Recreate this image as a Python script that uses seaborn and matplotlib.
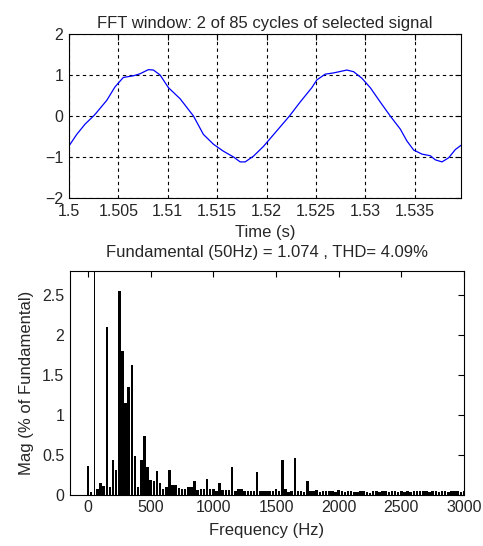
import numpy as np
import pandas as pd
from matplotlib import pyplot as plt
import seaborn as sns

# signal window
time_s = [1.5, 1.50078, 1.50162, 1.50257, 1.50382, 1.50466, 1.5055, 1.50652, 1.5072,
          1.50804, 1.50855, 1.50922, 1.51007, 1.51125, 1.5126, 1.51361, 1.51463, 1.51564,
          1.51666, 1.51733, 1.51784, 1.51868, 1.5197, 1.52105, 1.52233, 1.52341, 1.52459,
          1.5251, 1.52595, 1.52679, 1.52814, 1.52882, 1.52966, 1.53051, 1.53152, 1.53253,
          1.53355, 1.53422, 1.5349, 1.53574, 1.53659, 1.5371, 1.53777, 1.53845, 1.53912, 1.53973]
signal = [-0.73, -0.45, -0.2, 0.02, 0.38, 0.71, 0.94, 0.98, 1.03,
          1.13, 1.12, 1.0, 0.69, 0.42, 0.0, -0.45, -0.69, -0.86,
          -1.0, -1.12, -1.12, -0.98, -0.74, -0.36, 0.0, 0.34, 0.69,
          0.88, 1.02, 1.05, 1.12, 1.08, 0.92, 0.69, 0.34, 0.0,
          -0.32, -0.61, -0.83, -0.93, -0.97, -1.07, -1.12, -1.02, -0.82, -0.71]

# spectrum, 25 Hz bins from 0 to 3000 Hz
freq_hz = list(range(0, 3001, 25))
mag_pct = [0.36, 0.03, 100.0, 0.07, 0.14, 0.11, 2.10, 0.09, 0.43, 0.31,
           2.55, 1.80, 1.15, 1.35, 1.62, 0.48, 0.10, 0.43, 0.73, 0.34,
           0.18, 0.17, 0.29, 0.15, 0.07, 0.10, 0.31, 0.12, 0.12, 0.08,
           0.07, 0.07, 0.10, 0.09, 0.17, 0.06, 0.07, 0.07, 0.20, 0.07,
           0.07, 0.05, 0.15, 0.06, 0.06, 0.06, 0.34, 0.05, 0.07, 0.07,
           0.04, 0.05, 0.05, 0.05, 0.28, 0.05, 0.05, 0.05, 0.05, 0.05,
           0.07, 0.04, 0.43, 0.07, 0.03, 0.05, 0.46, 0.05, 0.05, 0.03,
           0.17, 0.05, 0.04, 0.06, 0.03, 0.04, 0.04, 0.04, 0.05, 0.03,
           0.06, 0.05, 0.03, 0.04, 0.04, 0.03, 0.03, 0.04, 0.05, 0.03,
           0.02, 0.04, 0.04, 0.03, 0.04, 0.04, 0.03, 0.04, 0.04, 0.03,
           0.05, 0.03, 0.04, 0.03, 0.04, 0.04, 0.05, 0.04, 0.04, 0.03,
           0.04, 0.04, 0.03, 0.04, 0.04, 0.03, 0.04, 0.05, 0.04, 0.03,
           0.04]
fundamental_hz = 50

time_ticks = [1.5, 1.505, 1.51, 1.515, 1.52, 1.525, 1.53, 1.535]
time_labels = ['1.5', '1.505', '1.51', '1.515', '1.52', '1.525', '1.53', '1.535']

sns.set_style("white")
plt.rcParams['font.family'] = ['Liberation Sans', 'DejaVu Sans']

fig = plt.figure(figsize=(4.83, 5.46), dpi=100)
ax1 = fig.add_axes([0.1429, 0.6374, 0.8116, 0.3004])
ax2 = fig.add_axes([0.1443, 0.0943, 0.8164, 0.4099])

df_sig = pd.DataFrame({'t': time_s, 'v': signal})
sns.lineplot(x='t', y='v', data=df_sig, color='#0000ff', linewidth=0.9, ax=ax1)
ax1.set_xlim(1.5, 1.5397)
ax1.set_ylim(-2, 2)
ax1.set_xticks(time_ticks)
ax1.set_xticklabels(time_labels)
ax1.set_yticks([-2, -1, 0, 1, 2])
ax1.grid(True, color='black', linestyle=(0, (3, 3)), linewidth=0.8)
ax1.set_xlabel('Time (s)', fontsize=12, labelpad=5)
ax1.set_ylabel('')
ax1.set_title('FFT window: 2 of 85 cycles of selected signal', fontsize=12, pad=4)

df_fft = pd.DataFrame({'f': freq_hz, 'm': mag_pct})
sns.barplot(x='f', y='m', data=df_fft, native_scale=True, color='black',
            saturation=1, width=0.8, linewidth=0, ax=ax2)
# the fundamental is drawn as a thin line in the original
for p, f in zip(ax2.patches, freq_hz):
    if f == fundamental_hz:
        p.set_x(p.get_x() + p.get_width() / 2 - 4)
        p.set_width(8)
ax2.set_xlim(-146, 3000)
ax2.set_ylim(0, 2.8)
ax2.set_xticks([0, 500, 1000, 1500, 2000, 2500, 3000])
ax2.set_yticks([0, 0.5, 1, 1.5, 2, 2.5])
ax2.set_yticklabels(['0', '0.5', '1', '1.5', '2', '2.5'])
ax2.set_xlabel('Frequency (Hz)', fontsize=12, labelpad=6)
ax2.set_ylabel('Mag (% of Fundamental)', fontsize=12, labelpad=6)
ax2.set_title('Fundamental (50Hz) = 1.074 , THD= 4.09%', fontsize=12, pad=10)

for ax in (ax1, ax2):
    ax.tick_params(direction='in', length=4, width=0.8, top=True, right=True,
                   labelsize=11.5, pad=4, color='black')
    for s in ax.spines.values():
        s.set_color('black')
        s.set_linewidth(0.8)

fig.savefig('out.png', dpi=100, facecolor='white')
